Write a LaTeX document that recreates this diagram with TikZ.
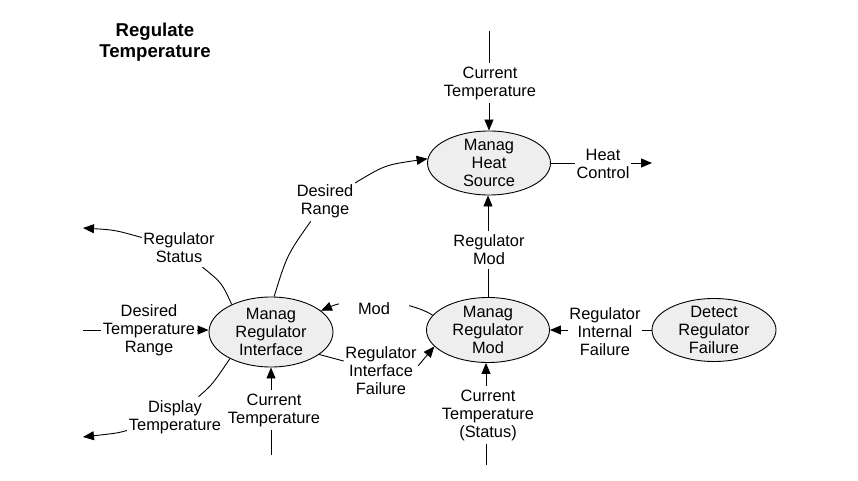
\documentclass[tikz,border=0pt]{standalone}
\usepackage{fontspec}
\setmainfont{Liberation Sans}
\usetikzlibrary{arrows.meta,shapes.geometric,backgrounds}
\definecolor{procfill}{RGB}{238,238,238}
\newcommand\dfdfont{\fontsize{16.4}{18}\selectfont}
\begin{document}
\begin{tikzpicture}[x=1pt,y=-1pt,
  proc/.style={ellipse,draw,fill=procfill,line width=0.9pt,inner sep=0pt},
  ptxt/.style={align=center,font=\dfdfont,inner sep=0pt},
  lbl/.style={align=center,font=\dfdfont,fill=white,inner xsep=1.5pt,inner ysep=3.5pt},
  flow/.style={line width=0.9pt,-{Triangle[length=11pt,width=9pt]}},
  plainline/.style={line width=0.9pt}]
\path[use as bounding box] (0,0) rectangle (858,481);

% title
\node[font=\fontsize{18.6}{21}\selectfont\bfseries,align=center] (title) at (155,42) {Regulate\\Temperature};

% processes
\node[proc,minimum width=123pt,minimum height=64pt] (heat) at (489,163) {};
\node[ptxt] (heattxt) at (heat) {Manag\\Heat\\Source};
\node[proc,minimum width=124pt,minimum height=70pt] (iface) at (271,332) {};
\node[ptxt] (ifacetxt) at (iface) {Manag\\Regulator\\Interface};
\node[proc,minimum width=123pt,minimum height=65pt] (rmod) at (488,330) {};
\node[ptxt] (rmodtxt) at (rmod) {Manag\\Regulator\\Mod};
\node[proc,minimum width=124pt,minimum height=63pt] (detect) at (714,330) {};
\node[ptxt] (detecttxt) at (detect) {Detect\\Regulator\\Failure};

% free ends
\coordinate (t1) at (489,31);
\coordinate (f2) at (83,228);
\coordinate (f3) at (83,330);
\coordinate (f4) at (83,437);
\coordinate (f5) at (271,455);
\coordinate (f6) at (652,163);
\coordinate (f7) at (486,465);

% labels
\node[lbl] (lCT1) at (490,83) {Current\\Temperature};
\node[lbl] (lDR) at (325,201) {Desired\\Range};
\node[lbl] (lRS) at (179,248) {Regulator\\Status};
\node[lbl] (lDTR) at (149,330) {Desired\\Temperature\\Range};
\node[lbl] (lDT) at (175,417) {Display\\Temperature};
\node[lbl] (lCT2) at (274,410) {Current\\Temperature};
\node[lbl,minimum width=70pt] (lMod) at (374,309) {Mod};
\node[lbl] (lRIF) at (381,371) {Regulator\\Interface\\Failure};
\node[lbl] (lRM) at (489,250) {Regulator\\Mod};
\node[lbl] (lHC) at (603,164) {Heat\\Control};
\node[lbl] (lRIntF) at (605,332) {Regulator\\Internal\\Failure};
\node[lbl] (lCTS) at (488,415) {Current\\Temperature\\(Status)};

\begin{scope}[on background layer]
  % Current Temperature -> Heat Source
  \draw[flow] (t1) -- (t1 |- heat.north);
  % Desired Range
  \draw[plainline] (iface.85) .. controls (287,255) .. (lDR);
  \draw[flow] (lDR) .. controls (385,165) .. (heat.176);
  % Regulator Status
  \draw[plainline] (iface.145) .. controls (222,283) .. (lRS);
  \draw[flow] (lRS) .. controls (115,230) .. (f2);
  % Desired Temperature Range
  \draw[flow] (f3) -- (f3 -| iface.west);
  % Display Temperature
  \draw[plainline] (iface.213) .. controls (212,385) .. (lDT);
  \draw[flow] (lDT) .. controls (118,433) .. (f4);
  % Current Temperature -> Interface
  \draw[flow] (f5) -- (f5 |- iface.south);
  % Mod
  \draw[flow] (rmod.165) .. controls (405,298) and (350,298) .. (iface.23);
  % Regulator Interface Failure
  \draw[plainline] (iface.335) -- (lRIF);
  \draw[flow] (lRIF.8) -- (rmod.197);
  % Regulator Mod
  \draw[flow] (rmod.north) -- (rmod.north |- heat.south);
  % Heat Control
  \draw[flow] (heat.east) -- (f6);
  % Regulator Internal Failure
  \draw[flow] (detect.west) -- (rmod.east);
  % Current Temperature (Status)
  \draw[flow] (f7) -- (f7 |- rmod.south);
\end{scope}
\end{tikzpicture}
\end{document}
